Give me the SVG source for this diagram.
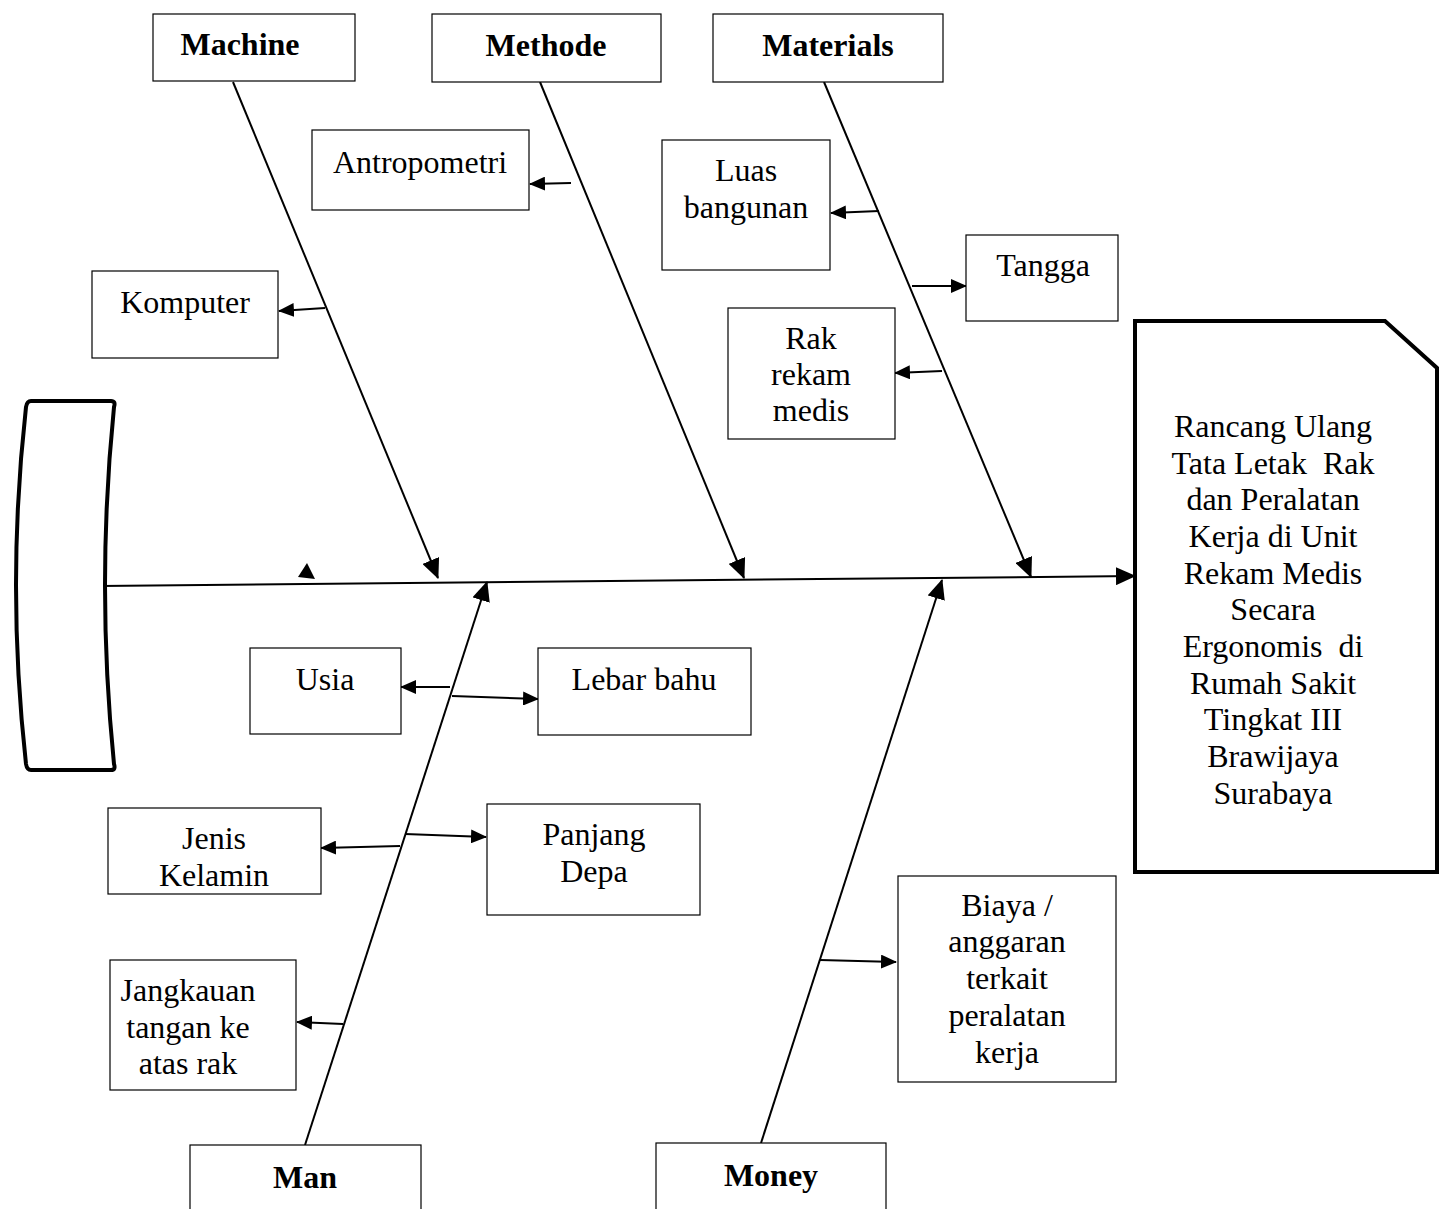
<svg xmlns="http://www.w3.org/2000/svg" width="1443" height="1209" viewBox="0 0 1443 1209">
<style>
.box{fill:#fff;stroke:#000;stroke-width:1.2}
.t{font-family:"Liberation Serif","Times New Roman",serif;font-size:32px;fill:#000;text-anchor:middle;white-space:pre}
.b{font-weight:bold}
.bone{stroke:#000;stroke-width:2;fill:none}
.sub{stroke:#000;stroke-width:2;fill:none}
</style>
<defs>
<marker id="ah" markerUnits="userSpaceOnUse" viewBox="0 0 20 18" markerWidth="20" markerHeight="18" refX="19" refY="9" orient="auto">
<path d="M0,0 L20,9 L0,18 Z" fill="#000"/>
</marker>
<marker id="as" markerUnits="userSpaceOnUse" viewBox="0 0 16 14" markerWidth="16" markerHeight="14" refX="15" refY="7" orient="auto">
<path d="M0,0 L16,7 L0,14 Z" fill="#000"/>
</marker>
</defs>
<rect width="1443" height="1209" fill="#fff"/>

<g id="connectors">
<line class="bone" x1="100" y1="586" x2="1135" y2="576" marker-end="url(#ah)"/>
<line class="bone" x1="233" y1="82" x2="438" y2="578" marker-end="url(#ah)"/>
<line class="bone" x1="540" y1="82" x2="744" y2="578" marker-end="url(#ah)"/>
<line class="bone" x1="824" y1="82" x2="1031" y2="577" marker-end="url(#ah)"/>
<line class="bone" x1="305" y1="1145" x2="487" y2="582" marker-end="url(#ah)"/>
<line class="bone" x1="761" y1="1143" x2="942" y2="580" marker-end="url(#ah)"/>
<polygon points="298,577 307,563 315,579" fill="#000"/>
<line class="sub" x1="571" y1="183" x2="530" y2="184" marker-end="url(#as)"/>
<line class="sub" x1="879" y1="211" x2="831" y2="213" marker-end="url(#as)"/>
<line class="sub" x1="912" y1="286" x2="966" y2="286" marker-end="url(#as)"/>
<line class="sub" x1="942" y1="371" x2="895" y2="373" marker-end="url(#as)"/>
<line class="sub" x1="325" y1="308" x2="279" y2="311" marker-end="url(#as)"/>
<line class="sub" x1="450" y1="687" x2="401" y2="687" marker-end="url(#as)"/>
<line class="sub" x1="452" y1="696" x2="538" y2="699" marker-end="url(#as)"/>
<line class="sub" x1="400" y1="846" x2="321" y2="848" marker-end="url(#as)"/>
<line class="sub" x1="405" y1="834" x2="486" y2="837" marker-end="url(#as)"/>
<line class="sub" x1="343" y1="1024" x2="297" y2="1022" marker-end="url(#as)"/>
<line class="sub" x1="820" y1="960" x2="896" y2="962" marker-end="url(#as)"/>
</g>

<g id="head-bracket">
<path d="M31,401 L111,401 Q116,401 114,407 Q96,585 114,764 Q116,770 111,770 L31,770 Q27,770 26,764 Q6,585 26,407 Q27,401 31,401 Z" fill="#fff" stroke="#000" stroke-width="4" stroke-linejoin="round"/>
</g>

<g id="effect">
<path d="M1135,321 L1385,321 L1437,368 L1437,872 L1135,872 Z" fill="#fff" stroke="#000" stroke-width="4"/>
<text class="t" x="1273" y="437">Rancang Ulang</text>
<text class="t" x="1273" y="474">Tata Letak  Rak</text>
<text class="t" x="1273" y="510">dan Peralatan</text>
<text class="t" x="1273" y="547">Kerja di Unit</text>
<text class="t" x="1273" y="584">Rekam Medis</text>
<text class="t" x="1273" y="620">Secara</text>
<text class="t" x="1273" y="657">Ergonomis  di</text>
<text class="t" x="1273" y="694">Rumah Sakit</text>
<text class="t" x="1273" y="730">Tingkat III</text>
<text class="t" x="1273" y="767">Brawijaya</text>
<text class="t" x="1273" y="804">Surabaya</text>
</g>

<g id="machine"><rect class="box" x="153" y="14" width="202" height="67"/><text class="t b" x="240" y="55">Machine</text></g>
<g id="methode"><rect class="box" x="432" y="14" width="229" height="68"/><text class="t b" x="546" y="56">Methode</text></g>
<g id="materials"><rect class="box" x="713" y="14" width="230" height="68"/><text class="t b" x="828" y="56">Materials</text></g>
<g id="antropometri"><rect class="box" x="312" y="130" width="217" height="80"/><text class="t" x="420" y="173">Antropometri</text></g>
<g id="luas-bangunan"><rect class="box" x="662" y="140" width="168" height="130"/><text class="t" x="746" y="181">Luas</text><text class="t" x="746" y="218">bangunan</text></g>
<g id="tangga"><rect class="box" x="966" y="235" width="152" height="86"/><text class="t" x="1043" y="276">Tangga</text></g>
<g id="rak-rekam-medis"><rect class="box" x="728" y="308" width="167" height="131"/><text class="t" x="811" y="349">Rak</text><text class="t" x="811" y="385">rekam</text><text class="t" x="811" y="421">medis</text></g>
<g id="komputer"><rect class="box" x="92" y="271" width="186" height="87"/><text class="t" x="185" y="313">Komputer</text></g>
<g id="usia"><rect class="box" x="250" y="648" width="151" height="86"/><text class="t" x="325" y="690">Usia</text></g>
<g id="lebar-bahu"><rect class="box" x="538" y="648" width="213" height="87"/><text class="t" x="644" y="690">Lebar bahu</text></g>
<g id="jenis-kelamin"><rect class="box" x="108" y="808" width="213" height="86"/><text class="t" x="214" y="849">Jenis</text><text class="t" x="214" y="886">Kelamin</text></g>
<g id="panjang-depa"><rect class="box" x="487" y="804" width="213" height="111"/><text class="t" x="594" y="845">Panjang</text><text class="t" x="594" y="882">Depa</text></g>
<g id="jangkauan"><rect class="box" x="110" y="960" width="186" height="130"/><text class="t" x="188" y="1001">Jangkauan</text><text class="t" x="188" y="1038">tangan ke</text><text class="t" x="188" y="1074">atas rak</text></g>
<g id="biaya"><rect class="box" x="898" y="876" width="218" height="206"/><text class="t" x="1007" y="916">Biaya /</text><text class="t" x="1007" y="952">anggaran</text><text class="t" x="1007" y="989">terkait</text><text class="t" x="1007" y="1026">peralatan</text><text class="t" x="1007" y="1063">kerja</text></g>
<g id="man"><rect class="box" x="190" y="1145" width="231" height="80"/><text class="t b" x="305" y="1188">Man</text></g>
<g id="money"><rect class="box" x="656" y="1143" width="230" height="80"/><text class="t b" x="771" y="1186">Money</text></g>
</svg>
